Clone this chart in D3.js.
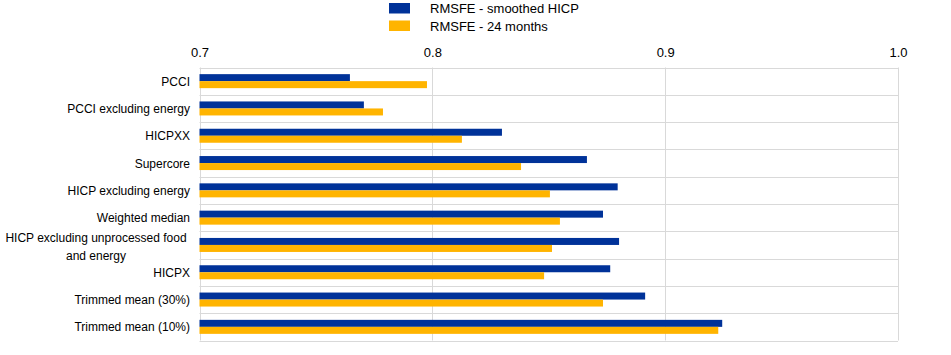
<!DOCTYPE html>
<html><head><meta charset="utf-8">
<script src="https://cdn.jsdelivr.net/npm/d3@7"></script>
<style>body{margin:0;background:#fff}svg{display:block}text{font-family:"Liberation Sans",Arial,sans-serif;fill:#000}</style>
</head><body><svg id="c" width="951" height="355"></svg>
<script>
const categories = ["PCCI","PCCI excluding energy","HICPXX","Supercore","HICP excluding energy","Weighted median","HICP excluding unprocessed food and energy","HICPX","Trimmed mean (30%)","Trimmed mean (10%)"];
const smoothed = [0.7646,0.7706,0.8299,0.8664,0.8796,0.8733,0.8802,0.8764,0.8914,0.9245];
const months24 = [0.7977,0.7788,0.8127,0.8381,0.8505,0.8548,0.8514,0.8480,0.8733,0.9228];
const seriesNames = ["RMSFE - smoothed HICP","RMSFE - 24 months"];
const colors = ["#003299","#FFB400"];
const ticks = [0.7,0.8,0.9,1.0];

const svg = d3.select("#c");
const x = d3.scaleLinear().domain([0.7,1.0]).range([199.5,898]);
const y = d3.scaleBand().domain(categories).range([67.5,340.5]);
const sub = d3.scaleBand().domain([0,1]).range([0,14]);
const grid = "#d9d9d9";

// horizontal grid at band edges
const edges = categories.map(c=>y(c)).concat([y.range()[1]]);
svg.append("g").selectAll("line").data(edges).join("line")
  .attr("x1",x(0.7)).attr("x2",x(1.0)).attr("y1",d=>Math.round(d)+0.5).attr("y2",d=>Math.round(d)+0.5)
  .attr("stroke",grid).attr("stroke-width",1);
// vertical grid
svg.append("g").selectAll("line").data(ticks).join("line")
  .attr("x1",d=>Math.round(x(d))+0.5).attr("x2",d=>Math.round(x(d))+0.5)
  .attr("y1",y.range()[0]).attr("y2",y.range()[1]).attr("stroke",grid);

// top axis labels
const ax = d3.axisTop(x).tickValues(ticks).tickFormat(d3.format(".1f")).tickSize(0).tickPadding(0);
const axg = svg.append("g").attr("transform","translate(0,57)").call(ax);
axg.select(".domain").remove();
axg.selectAll("text").attr("font-size",13).attr("font-family",'"Liberation Sans",Arial,sans-serif').attr("fill","#000");

// bars
const data = categories.map((c,i)=>({c, vals:[smoothed[i],months24[i]]}));
const g = svg.append("g");
data.forEach(d=>{
  const y0 = y(d.c) + (y.bandwidth()-14)/2;
  g.selectAll(null).data(d.vals).join("rect")
    .attr("x",x(0.7)).attr("y",(v,j)=>y0+sub(j))
    .attr("width",v=>x(v)-x(0.7)).attr("height",sub.bandwidth())
    .attr("fill",(v,j)=>colors[j]);
});

// category labels
const lab = svg.append("g").attr("font-size",12).attr("text-anchor","end");
categories.forEach(c=>{
  const cy = y(c)+y.bandwidth()/2;
  if(c==="HICP excluding unprocessed food and energy"){
    lab.append("text").attr("x",96).attr("y",cy-3.3).attr("text-anchor","middle").text("HICP excluding unprocessed food");
    lab.append("text").attr("x",96).attr("y",cy+15.2).attr("text-anchor","middle").text("and energy");
  } else {
    lab.append("text").attr("x",190).attr("y",cy+4.5).text(c);
  }
});

// legend
const lg = svg.append("g");
seriesNames.forEach((s,i)=>{
  lg.append("rect").attr("x",389).attr("y",3+i*17.5).attr("width",21).attr("height",10.5).attr("fill",colors[i]);
  lg.append("text").attr("x",430).attr("y",13+i*17.5).attr("font-size",13).text(s);
});
</script></body></html>
